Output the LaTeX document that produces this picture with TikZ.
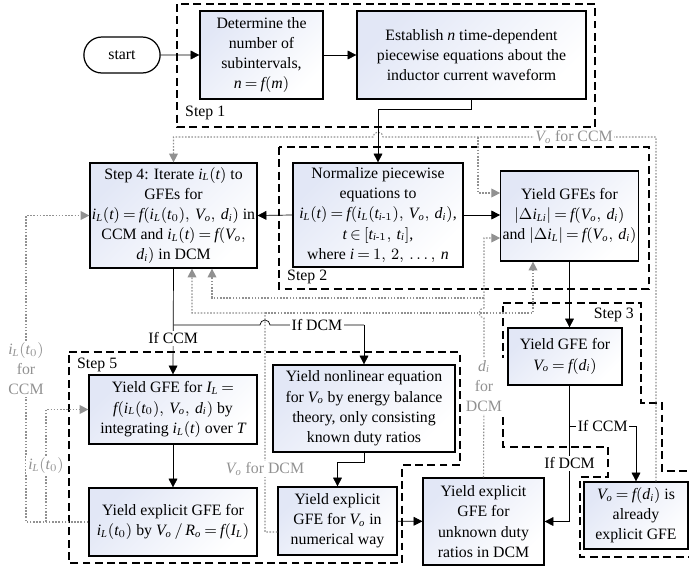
\documentclass[tikz,border=0pt]{standalone}
\usepackage{amsmath}
\usepackage{fontspec}
\setmainfont{Liberation Serif}
\DeclareSymbolFont{lsit}{TU}{\familydefault}{m}{it}
\DeclareSymbolFont{lsup}{TU}{\familydefault}{m}{n}
\makeatletter
\count@=`a \loop\Umathcode\count@=7 \symlsit\count@ \ifnum\count@<`z \advance\count@\@ne\repeat
\count@=`A \loop\Umathcode\count@=7 \symlsit\count@ \ifnum\count@<`Z \advance\count@\@ne\repeat
\count@=`0 \loop\Umathcode\count@=7 \symlsup\count@ \ifnum\count@<`9 \advance\count@\@ne\repeat
\makeatother
\medmuskip=2mu plus 1mu minus 1mu
\thickmuskip=3.5mu plus 2mu
\usepackage{tikz}
\usetikzlibrary{arrows.meta,calc,positioning,shapes.misc}
\definecolor{boxblue}{RGB}{226,231,246}
\definecolor{fbgray}{RGB}{145,145,145}

\begin{document}
\begin{tikzpicture}[x=0.02cm,y=-0.02cm,>={Triangle[length=5pt,width=5pt]},
  every node/.style={font=\fontsize{9}{11.5}\selectfont},
  box/.style={draw,line width=0.7pt,align=center,inner sep=1pt,top color=boxblue,bottom color=white,shading angle=45},
  startnode/.style={draw,rounded rectangle,line width=0.7pt,fill=white,minimum width=1.76cm,minimum height=0.72cm},
  steparea/.style={draw,line width=0.8pt,dash pattern=on 4.5pt off 2.5pt},
  fb/.style={draw=fbgray,line width=0.6pt,dash pattern=on 0.9pt off 0.9pt},
  fblabel/.style={text=fbgray,fill=white,inner sep=1pt,align=center},
  ifl/.style={fill=white,inner sep=1pt}]
  \useasboundingbox (0,0) rectangle (689,569);

  % dashed step areas
  \draw[steparea] (177,4) rectangle (595,127);
  \draw[steparea] (279,147) rectangle (649,289);
  \draw[steparea] (503,303) -- (641,303) -- (641,403) -- (662,403) -- (662,471) -- (700,471)
    -- (700,557) -- (580,557) -- (580,477) -- (608,477) -- (608,447) -- (503,447) -- cycle;
  \draw[steparea] (69,352) -- (460,352) -- (460,465) -- (402,465) -- (402,563) -- (69,563) -- cycle;
  \node[anchor=west] (s1) at (179,113) {Step 1};
  \node[anchor=west] (s2) at (281,277) {Step 2};
  \node[anchor=east] (s3) at (640,315) {Step 3};
  \node[anchor=west] (s5) at (71,365) {Step 5};

  % boxes
  \node[startnode] (start) at (122,55) {start};
  \node[box,minimum width=2.46cm,minimum height=1.76cm] (det) at (261.5,55) {Determine the\\number of\\subintervals,\\$n=f(m)$};
  \node[box,minimum width=4.58cm,minimum height=1.76cm] (est) at (471.5,55) {Establish $n$ time-dependent\\piecewise equations about the\\inductor current waveform};
  \node[box,minimum width=3.34cm,minimum height=2.10cm] (iter) at (173.5,215.5) {Step 4: Iterate $i_L(t)$ to\\GFEs for\\$i_L(t)=f(i_L(t_0),\,V_o,\,d_i)$ in\\CCM and $i_L(t)=f(V_o,$\\$d_i)$ in DCM};
  \node[box,minimum width=3.40cm,minimum height=2.08cm] (norm) at (378,215) {Normalize piecewise\\equations to\\$i_L(t)=f(i_L(t_{i\text{-}1}),\,V_o,\,d_i)$,\\$t\in[t_{i\text{-}1},\,t_i]$,\\where $i=1,\,2,\,\ldots,\,n$};
  \node[box,minimum width=2.74cm,minimum height=1.80cm] (gfes) at (569.5,216) {Yield GFEs for\\$|\Delta i_{Li}|=f(V_o,\,d_i)$\\and $|\Delta i_L|=f(V_o,\,d_i)$};
  \node[box,minimum width=2.28cm,minimum height=1.14cm] (vo) at (565,356.5) {Yield GFE for\\$V_o=f(d_i)$};
  \node[box,minimum width=2.08cm,minimum height=1.34cm] (expl) at (636,515.5) {$V_o=f(d_i)$ is\\already\\explicit GFE};
  \node[box,minimum width=2.42cm,minimum height=1.74cm] (duty) at (483.5,521.5) {Yield explicit\\GFE for\\unknown duty\\ratios in DCM};
  \node[box,minimum width=3.36cm,minimum height=1.38cm] (IL) at (173,409.5) {Yield GFE for $I_L=$\\$f(i_L(t_0),\,V_o,\,d_i)$ by\\integrating $i_L(t)$ over $T$};
  \node[box,minimum width=3.36cm,minimum height=1.36cm] (it0) at (173,522) {Yield explicit GFE for\\$i_L(t_0)$ by $V_o\,/\,R_o=f(I_L)$};
  \node[box,minimum width=3.64cm,minimum height=1.74cm] (nonlin) at (364,408.5) {Yield nonlinear equation\\for $V_o$ by energy balance\\theory, only consisting\\known duty ratios};
  \node[box,minimum width=2.38cm,minimum height=1.36cm] (num) at (337.5,521) {Yield explicit\\GFE for $V_o$ in\\numerical way};

  % feedback paths
  \coordinate (ccmA) at (478,137);
  \draw[fb,->] ([xshift=0.4cm]expl.north) -- (656,137) -- (574,137) node[fblabel]{$V_o$ for CCM} -- (383,137)
    arc[start angle=0,end angle=180,radius=0.1cm] -| (iter.north);
  \draw[fb,->] (ccmA) |- ([yshift=0.46cm]gfes.west);
  \coordinate (itA) at (46,522);
  \draw[fb,->] (it0.west) -- (26,522) -- node[fblabel]{$i_L(t_0)$\\for\\CCM} (26,215.5) -- (iter.west);
  \draw[fb,->] (itA) |- node[fblabel,pos=0.25]{$i_L(t_0)$} (IL.west);
  \coordinate (dcmA) at (265,313);
  \draw[fb,->] ([yshift=-0.22cm]num.west) -- (265,532) -- (265,469) node[fblabel]{$V_o$ for DCM} -- (dcmA) -| ([xshift=0.37cm]iter.south);
  \draw[fb,->] (dcmA) -| ([xshift=-0.73cm]gfes.south);
  \coordinate (dA) at (484,298);
  \draw[fb,->] (duty.north) -- (484,386) node[fblabel]{$d_i$\\for\\DCM} -- (484,318)
    arc[start angle=270,end angle=90,radius=0.1cm] -- (484,238) -- ([yshift=-0.44cm]gfes.west);
  \draw[fb,->] (dA) -| ([xshift=0.77cm]iter.south);

  % main flow
  \draw[->] (start) -- (det);
  \draw[->] (det) -- (est);
  \draw[->] (est.south) -- ++(0,10) -| (norm.north);
  \draw[->] (norm.west) -- (iter.east);
  \draw[->] (norm.east) -- (norm.east -| gfes.west);
  \draw[->] (gfes.south) -- (gfes.south |- vo.north);
  \draw[->] (gfes.south |- vo.south) |- node[ifl,pos=0.286]{If DCM} (duty.east);
  \coordinate (ccmB) at (569.5,426);
  \draw[->] (ccmB) -| node[ifl,pos=0.25]{If CCM} (expl.north);
  \draw[->] (iter.south) -- node[ifl,pos=0.66]{If CCM} (IL.north);
  \coordinate (dcmB) at (173.5,325);
  \draw (dcmB) -- (260,325) arc[start angle=180,end angle=0,radius=0.1cm]
    -- node[ifl]{If DCM} (364,325);
  \draw[->] (364,325) -- (nonlin.north);
  \draw[->] (IL) -- (it0);
  \draw[->] (nonlin.south) -- ++(0,10) -| (num.north);
  \draw[->] (num) -- (duty);
\end{tikzpicture}
\end{document}
